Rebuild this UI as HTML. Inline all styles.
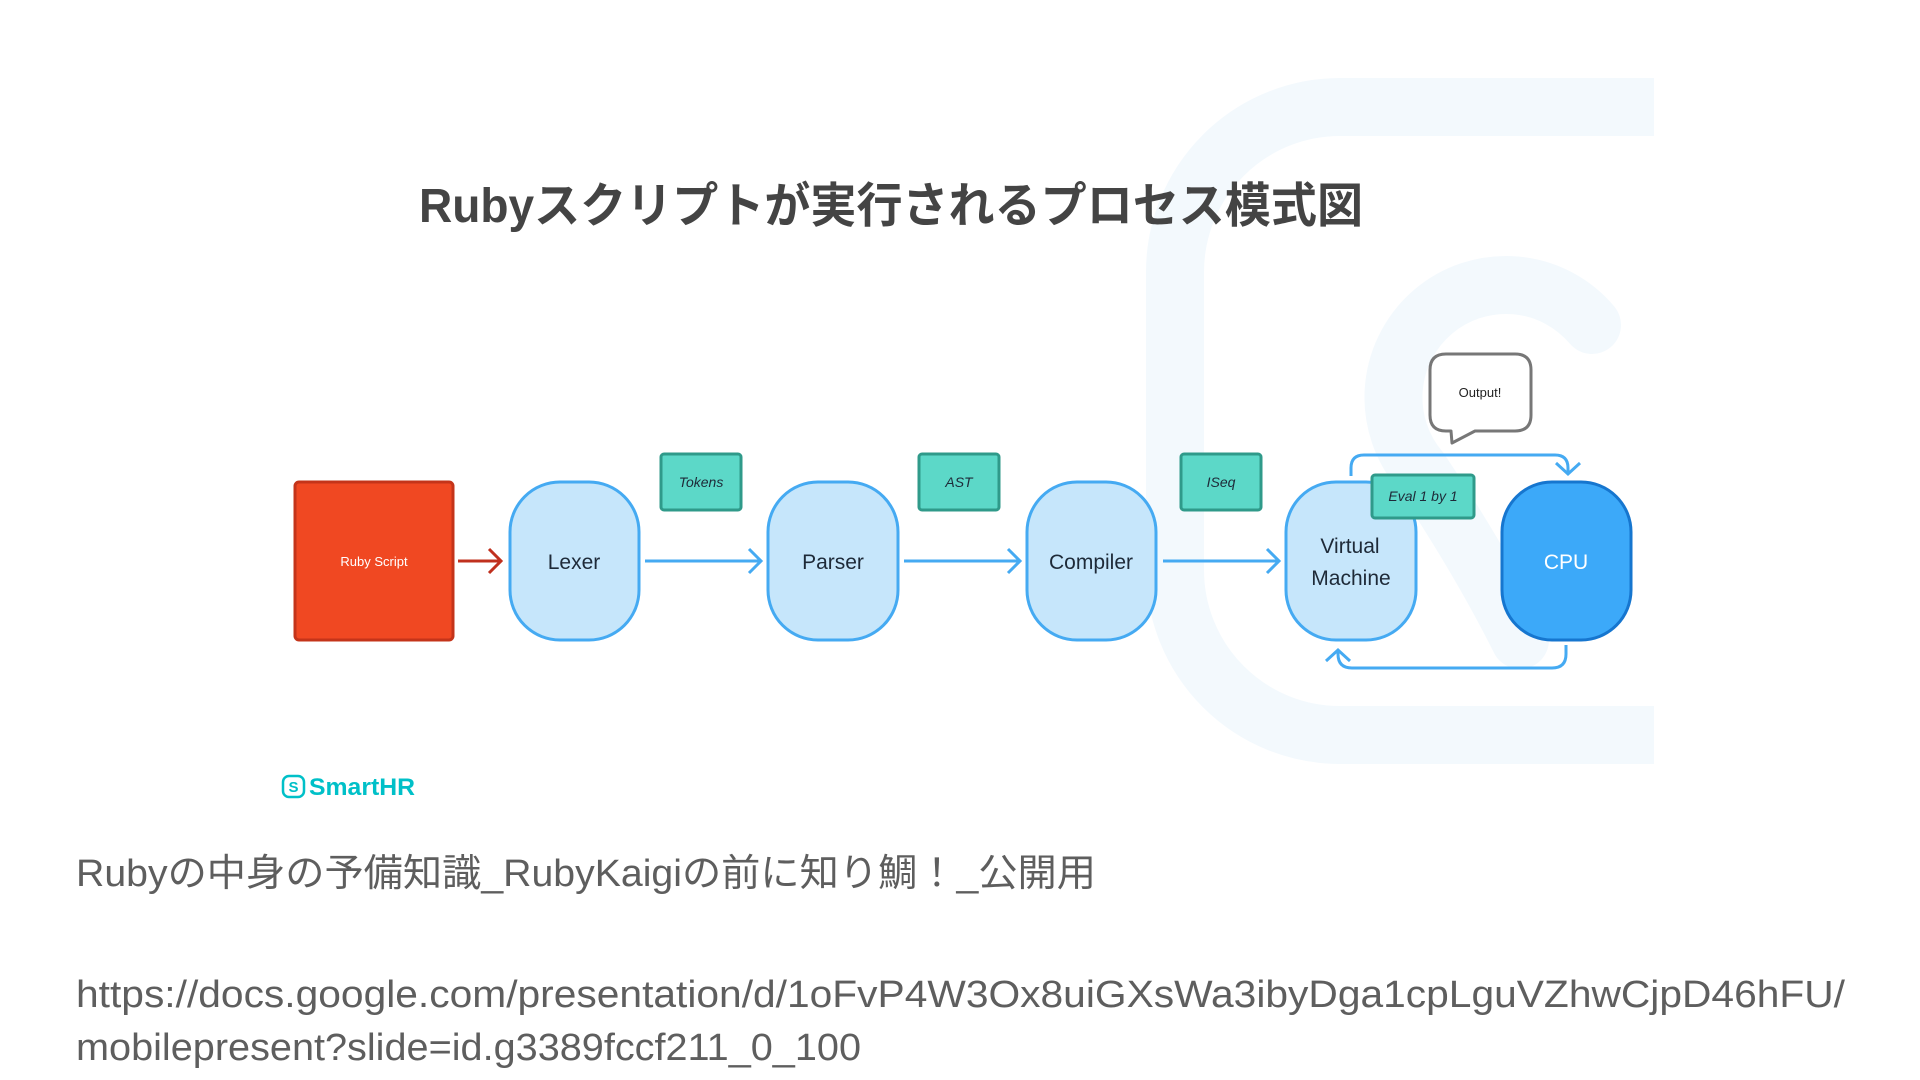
<!DOCTYPE html>
<html><head><meta charset="utf-8"><style>
html,body{margin:0;padding:0;background:#fff;}
svg{display:block;}
</style></head><body>
<svg width="1920" height="1080" viewBox="0 0 1920 1080" xmlns="http://www.w3.org/2000/svg">
<!-- background logo -->
<g fill="none" stroke="#f3f9fd" stroke-width="58">
<path d="M1654,107 H1340 A165 165 0 0 0 1175,272 V570 A165 165 0 0 0 1340,735 H1654"/>
<path d="M1592,325 A112 112 0 1 0 1420,470 Q1480,560 1520,640" stroke-linecap="round"/>
</g>
<!-- title -->
<text x="419" y="222" font-family="'Liberation Sans','Noto Sans CJK JP',sans-serif" font-weight="bold" font-size="48" fill="#444" textLength="944" lengthAdjust="spacingAndGlyphs">Rubyスクリプトが実行されるプロセス模式図</text>
<!-- ruby script -->
<rect x="295" y="482" width="158" height="158" rx="4" fill="#f04822" stroke="#c4341a" stroke-width="3"/>
<text x="374" y="566" text-anchor="middle" font-family="'Liberation Sans',sans-serif" font-size="13" fill="#fff">Ruby Script</text>
<path d="M458,561 H500 M489,549 L501,561 L489,573" fill="none" stroke="#c0301e" stroke-width="3"/>
<!-- nodes -->
<g fill="#c6e6fb" stroke="#45aaf2" stroke-width="3">
<rect x="510" y="482" width="129" height="158" rx="50"/>
<rect x="768" y="482" width="130" height="158" rx="50"/>
<rect x="1027" y="482" width="129" height="158" rx="50"/>
<rect x="1286" y="482" width="130" height="158" rx="50"/>
</g>
<rect x="1502" y="482" width="129" height="158" rx="50" fill="#3ca9f9" stroke="#1676cf" stroke-width="3"/>
<g font-family="'Liberation Sans',sans-serif" font-size="21" fill="#1e2a38" text-anchor="middle">
<text x="574" y="569">Lexer</text>
<text x="833" y="569">Parser</text>
<text x="1091" y="569">Compiler</text>
<text x="1350" y="553">Virtual</text>
<text x="1351" y="585">Machine</text>
<text x="1566" y="569" fill="#fff">CPU</text>
</g>
<!-- arrows -->
<g fill="none" stroke="#45aaf2" stroke-width="3">
<path d="M645,561 H761 M749,549 L761,561 L749,573"/>
<path d="M904,561 H1020 M1008,549 L1020,561 L1008,573"/>
<path d="M1163,561 H1279 M1267,549 L1279,561 L1267,573"/>
<path d="M1351,476 V468 Q1351,455 1364,455 H1555 Q1568,455 1568,468 V473 M1556,463 L1568,474 L1580,463"/>
<path d="M1566,645 V654 Q1566,668 1552,668 H1352 Q1338,668 1338,654 V650 M1326,661 L1338,650 L1350,661"/>
</g>
<!-- tags -->
<g fill="#5cd8c8" stroke="#2f9a8a" stroke-width="3">
<rect x="661" y="454" width="80" height="56" rx="3"/>
<rect x="919" y="454" width="80" height="56" rx="3"/>
<rect x="1181" y="454" width="80" height="56" rx="3"/>
<rect x="1372" y="475" width="102" height="43" rx="3"/>
</g>
<g font-family="'Liberation Sans',sans-serif" font-style="italic" font-size="14" fill="#1e2a38" text-anchor="middle">
<text x="701" y="487">Tokens</text>
<text x="959" y="487">AST</text>
<text x="1221" y="487">ISeq</text>
<text x="1423" y="501">Eval 1 by 1</text>
</g>
<!-- bubble -->
<path d="M1451,431 H1446 Q1430,431 1430,415 V370 Q1430,354 1446,354 H1515 Q1531,354 1531,370 V415 Q1531,431 1515,431 H1475 L1452,443 Z" fill="#fff" stroke="#777" stroke-width="3" stroke-linejoin="round"/>
<text x="1480" y="397" text-anchor="middle" font-family="'Liberation Sans',sans-serif" font-size="13" fill="#222">Output!</text>
<!-- SmartHR logo -->
<rect x="283" y="776" width="21" height="21" rx="6" fill="none" stroke="#00c0c8" stroke-width="2.5"/>
<text x="293.5" y="792" text-anchor="middle" font-family="'Liberation Sans',sans-serif" font-weight="bold" font-size="15" fill="#00c0c8">S</text>
<text x="309" y="795" font-family="'Liberation Sans',sans-serif" font-weight="bold" font-size="24" fill="#00c0c8" textLength="106" lengthAdjust="spacingAndGlyphs">SmartHR</text>
<!-- bottom text -->
<g font-family="'Liberation Sans','Noto Sans CJK JP',sans-serif" fill="#5e5e5e">
<text x="76" y="886" font-size="38" textLength="1020" lengthAdjust="spacingAndGlyphs">Rubyの中身の予備知識_RubyKaigiの前に知り鯛！_公開用</text>
<text x="76" y="1007" font-size="38" textLength="1769" lengthAdjust="spacingAndGlyphs">https://docs.google.com/presentation/d/1oFvP4W3Ox8uiGXsWa3ibyDga1cpLguVZhwCjpD46hFU/</text>
<text x="76" y="1060" font-size="38" textLength="785" lengthAdjust="spacingAndGlyphs">mobilepresent?slide=id.g3389fccf211_0_100</text>
</g>
</svg>
</body></html>
